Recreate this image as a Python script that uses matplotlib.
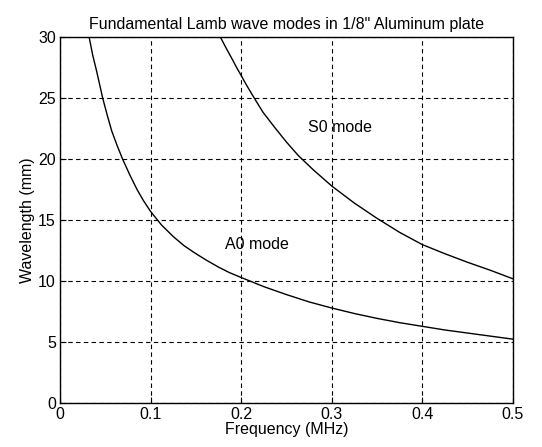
import matplotlib
matplotlib.use("Agg")
import matplotlib.pyplot as plt

plt.rcParams['font.family'] = ['Liberation Sans', 'DejaVu Sans']

# values
a0_freq = [0.032, 0.036, 0.040, 0.047, 0.052, 0.057, 0.063, 0.069, 0.077, 0.085,
           0.092, 0.100, 0.112, 0.125, 0.137, 0.150, 0.162, 0.175, 0.187, 0.200,
           0.225, 0.250, 0.275, 0.300, 0.325, 0.350, 0.375, 0.400, 0.425, 0.450,
           0.475, 0.500]
a0_wave = [30.0, 28.5, 27.3, 25.0, 23.6, 22.3, 21.1, 20.0, 18.7, 17.5,
           16.6, 15.7, 14.6, 13.65, 12.9, 12.25, 11.7, 11.15, 10.7, 10.3,
           9.55, 8.9, 8.3, 7.8, 7.35, 6.95, 6.6, 6.3, 6.0, 5.75,
           5.5, 5.25]

s0_freq = [0.177, 0.183, 0.190, 0.195, 0.200, 0.206, 0.212, 0.224, 0.237, 0.250,
           0.263, 0.280, 0.300, 0.325, 0.349, 0.375, 0.400, 0.425, 0.450, 0.475,
           0.500]
s0_wave = [30.0, 29.15, 28.2, 27.5, 26.85, 26.05, 25.3, 23.85, 22.6, 21.4,
           20.3, 19.1, 17.8, 16.4, 15.2, 14.0, 13.0, 12.25, 11.55, 10.9,
           10.2]

xticks = [0, 0.1, 0.2, 0.3, 0.4, 0.5]
xlabels = ['0', '0.1', '0.2', '0.3', '0.4', '0.5']
yticks = [0, 5, 10, 15, 20, 25, 30]

fig = plt.figure(figsize=(5.42, 4.47), dpi=100)
ax = fig.add_axes([0.111, 0.098, 0.835, 0.819])

ax.plot(a0_freq, a0_wave, color='black', lw=1.0)
ax.plot(s0_freq, s0_wave, color='black', lw=1.0)

ax.text(0.274, 22.6, 'S0 mode', fontsize=11.5, va='center')
ax.text(0.182, 13.0, 'A0 mode', fontsize=11.5, va='center')

ax.set_xlim(0, 0.5)
ax.set_ylim(0, 30)
ax.set_xticks(xticks)
ax.set_xticklabels(xlabels)
ax.set_yticks(yticks)
ax.tick_params(direction='in', labelsize=11.5, length=4, width=0.8, pad=3)
ax.grid(True, color='black', linestyle=(0, (4, 3)), lw=0.8)
for s in ax.spines.values():
    s.set_linewidth(1.0)

ax.set_xlabel('Frequency (MHz)', fontsize=11.5, labelpad=0)
ax.set_ylabel('Wavelength (mm)', fontsize=11.5, labelpad=2)
ax.set_title('Fundamental Lamb wave modes in 1/8" Aluminum plate', fontsize=11.5, pad=6)

fig.savefig('out.png', dpi=100)
